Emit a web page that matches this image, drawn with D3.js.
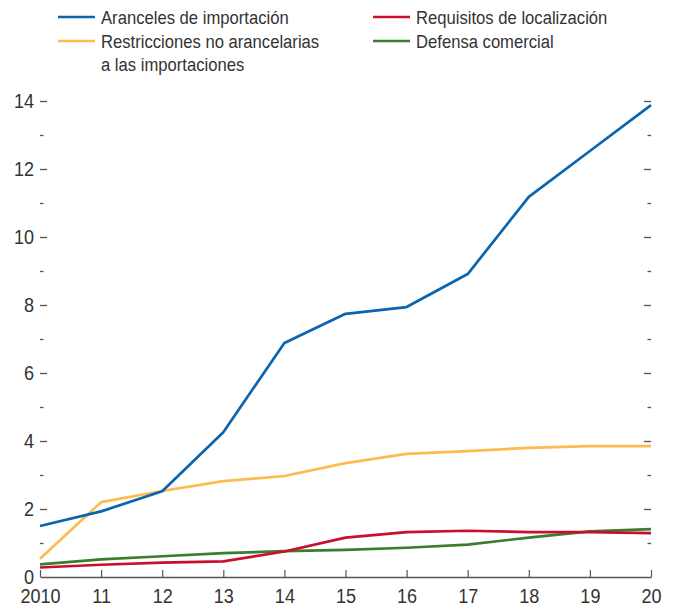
<!DOCTYPE html>
<html><head><meta charset="utf-8">
<script src="https://cdn.jsdelivr.net/npm/d3@7"></script>
<style>
body{margin:0;background:#fff;}
svg text{font-family:"Liberation Sans","Arial",sans-serif;fill:#333;}
</style></head>
<body><svg id="c" width="673" height="607"></svg>
<script>
const years = [2010,2011,2012,2013,2014,2015,2016,2017,2018,2019,2020];
const xLabels = ["2010","11","12","13","14","15","16","17","18","19","20"];
const aranceles = [1.5,1.93,2.52,4.26,6.88,7.74,7.94,8.91,11.18,12.53,13.88];
const restricciones = [0.54,2.2,2.53,2.82,2.97,3.35,3.62,3.7,3.8,3.85,3.85];
const requisitos = [0.28,0.36,0.42,0.46,0.75,1.16,1.32,1.36,1.32,1.32,1.29];
const defensa = [0.37,0.52,0.61,0.70,0.76,0.80,0.86,0.95,1.16,1.34,1.41];
const yTicks = [0,2,4,6,8,10,12,14];
const yMinor = [1,3,5,7,9,11,13];

const series = [
  {name:["Aranceles de importación"], values:aranceles, color:"#0a64b0"},
  {name:["Restricciones no arancelarias","a las importaciones"], values:restricciones, color:"#fdbb4f"},
  {name:["Requisitos de localización"], values:requisitos, color:"#c8102e"},
  {name:["Defensa comercial"], values:defensa, color:"#3a7e2d"}
];

const svg = d3.select("#c");
const x = d3.scaleLinear().domain([2010,2020]).range([40,651]);
const y = d3.scaleLinear().domain([0,14]).range([577,101]);
const TICK = "#555";
const SX = 0.86;

// x axis
const xg = svg.append("g").attr("transform","translate(0,577)")
  .call(d3.axisBottom(x).tickValues(years).tickFormat((d,i)=>xLabels[i]).tickSizeInner(-7).tickSizeOuter(0));
xg.select(".domain").attr("stroke",TICK).attr("stroke-width",1.5);
xg.selectAll(".tick line").attr("stroke",TICK).attr("stroke-width",1.2);
xg.selectAll("text").attr("font-size",21).attr("fill","#333").attr("y",26).attr("dy",null)
  .attr("transform",`scale(${SX},1)`);

// left y axis (ticks pointing inward)
const yl = svg.append("g").attr("transform","translate(40,0)")
  .call(d3.axisLeft(y).tickValues(yTicks).tickSize(-7));
yl.select(".domain").remove();
yl.selectAll(".tick line").attr("stroke",TICK).attr("stroke-width",1.3);
yl.selectAll(".tick").filter(d=>d===0).select("line").remove();
yl.selectAll("text").attr("font-size",21).attr("fill","#333").attr("x",-7)
  .attr("transform",`scale(${SX},1)`);
const ylm = svg.append("g").attr("transform","translate(40,0)")
  .call(d3.axisLeft(y).tickValues(yMinor).tickSize(-3.5).tickFormat(""));
ylm.select(".domain").remove();
ylm.selectAll(".tick line").attr("stroke",TICK).attr("stroke-width",1.3);

// right y axis (ticks pointing inward)
const yr = svg.append("g").attr("transform","translate(651,0)")
  .call(d3.axisRight(y).tickValues(yTicks.filter(d=>d>0)).tickSize(-7).tickFormat(""));
yr.select(".domain").remove();
yr.selectAll(".tick line").attr("stroke",TICK).attr("stroke-width",1.3);
const yrm = svg.append("g").attr("transform","translate(651,0)")
  .call(d3.axisRight(y).tickValues(yMinor).tickSize(-3.5).tickFormat(""));
yrm.select(".domain").remove();
yrm.selectAll(".tick line").attr("stroke",TICK).attr("stroke-width",1.3);

// lines
const line = d3.line().x((d,i)=>x(years[i])).y(d=>y(d));
[series[1],series[3],series[2],series[0]].forEach(s=>{
  svg.append("path").attr("d",line(s.values)).attr("fill","none")
    .attr("stroke",s.color).attr("stroke-width",2.7).attr("stroke-linejoin","round");
});

// legend
const legPos = [[58,17],[58,41],[373,17],[373,41]];
series.forEach((s,i)=>{
  const [lx,ly] = legPos[i];
  svg.append("line").attr("x1",lx).attr("x2",lx+37).attr("y1",ly).attr("y2",ly)
    .attr("stroke",s.color).attr("stroke-width",2.7);
  s.name.forEach((t,j)=>{
    svg.append("text").attr("transform",`translate(${lx+43},${ly+7+j*23}) scale(0.9,1)`)
      .attr("font-size",18.5).text(t);
  });
});
</script></body></html>
